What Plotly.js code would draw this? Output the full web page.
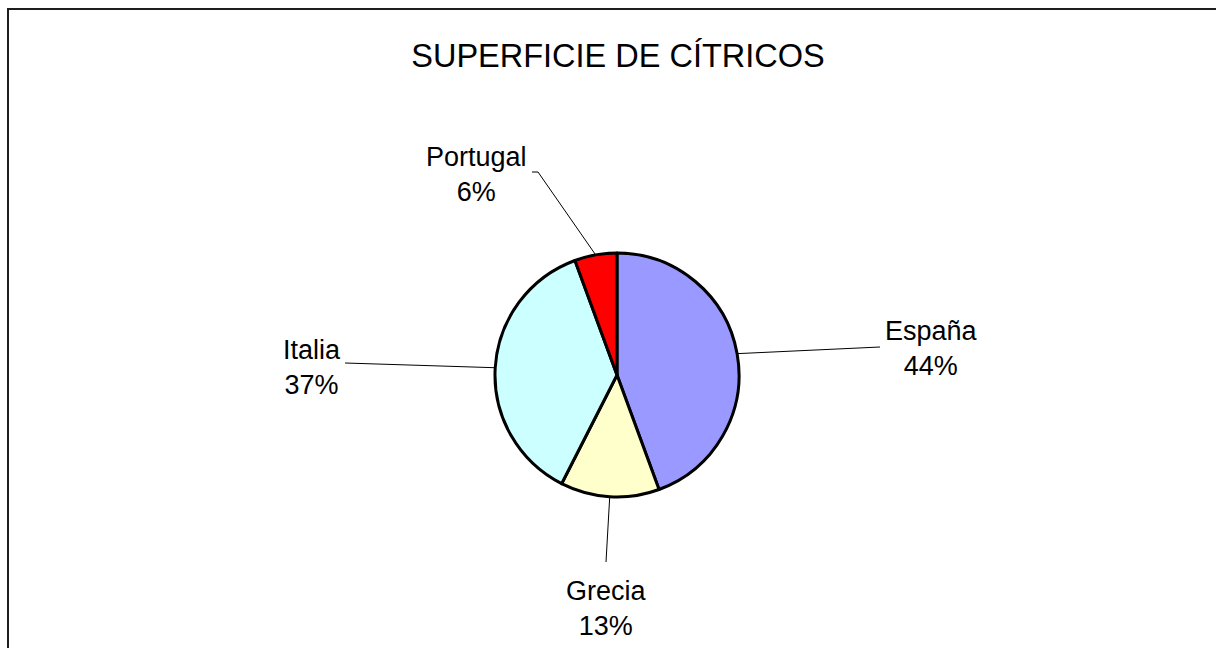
<!DOCTYPE html>
<html>
<head>
<meta charset="utf-8">
<script src="https://cdn.plot.ly/plotly-3.0.1.min.js"></script>
<style>
  html, body { margin: 0; padding: 0; background: #fff; overflow: hidden; }
  #chart { position: absolute; left: 0; top: 0; width: 1216px; height: 648px; }
</style>
</head>
<body>
<div id="chart"></div>
<script>
// ---- data ----
const categories = ["España", "Grecia", "Italia", "Portugal"];
const values = [44.4, 13.1, 36.9, 5.6];
const colors = ["#9999FF", "#FFFFCC", "#CCFFFF", "#FF0000"];
const chartTitle = "SUPERFICIE DE CÍTRICOS";

// ---- layout (pixels) ----
const W = 1216, H = 648;
const cx = 617, cy = 375, R = 122;           // pie centre and radius
const labelPos = [[931, 349], [606, 608], [312, 367], [476, 174]];   // label block centres
const leaderEnd = [[[880, 347]], [[606, 562]], [[345, 363]], [[538, 172], [532, 172]]];

const px = x => x / W;
const py = y => 1 - y / H;

const total = values.reduce((a, b) => a + b, 0);
let cum = 0;
const shapes = [];
const annotations = [];

// outer chart frame (left and top edges visible)
shapes.push({ type: 'line', xref: 'paper', yref: 'paper',
  x0: px(8), x1: px(8), y0: py(H + 10), y1: py(8),
  line: { color: '#1e1e1e', width: 2 } });
shapes.push({ type: 'line', xref: 'paper', yref: 'paper',
  x0: px(7), x1: px(W + 10), y0: py(9), y1: py(9),
  line: { color: '#1e1e1e', width: 2 } });

values.forEach((v, i) => {
  const mid = (cum + v / 2) / total * 2 * Math.PI; // clockwise from 12 o'clock
  cum += v;
  const sx = cx + R * Math.sin(mid);
  const sy = cy - R * Math.cos(mid);
  let path = `M ${px(sx)} ${py(sy)}`;
  leaderEnd[i].forEach(p => { path += ` L ${px(p[0])} ${py(p[1])}`; });
  shapes.push({ type: 'path', xref: 'paper', yref: 'paper', path: path,
                line: { color: '#000', width: 1 } });
  annotations.push({
    xref: 'paper', yref: 'paper', x: px(labelPos[i][0]), y: py(labelPos[i][1]),
    xanchor: 'center', yanchor: 'middle', showarrow: false, align: 'center',
    text: categories[i] + '<br>' + Math.round(v / total * 100) + '%',
    font: { family: 'Liberation Sans, Arial, sans-serif', size: 27, color: '#000' }
  });
});

const trace = {
  type: 'pie',
  labels: categories,
  values: values,
  sort: false,
  direction: 'clockwise',
  rotation: 0,
  textinfo: 'none',
  hoverinfo: 'label+percent',
  marker: { colors: colors, line: { color: '#000', width: 3 } },
  domain: { x: [px(cx - R), px(cx + R)], y: [py(cy + R), py(cy - R)] },
  showlegend: false
};

const layout = {
  width: W, height: H,
  margin: { l: 0, r: 0, t: 0, b: 0 },
  paper_bgcolor: '#fff',
  showlegend: false,
  title: {
    text: chartTitle,
    x: px(618), xanchor: 'center', xref: 'container',
    y: 1 - 56 / H, yanchor: 'middle', yref: 'container',
    font: { family: 'Liberation Sans, Arial, sans-serif', size: 32.5, color: '#000' }
  },
  shapes: shapes,
  annotations: annotations
};

Plotly.newPlot('chart', [trace], layout, { displayModeBar: false, staticPlot: true });
</script>
</body>
</html>
